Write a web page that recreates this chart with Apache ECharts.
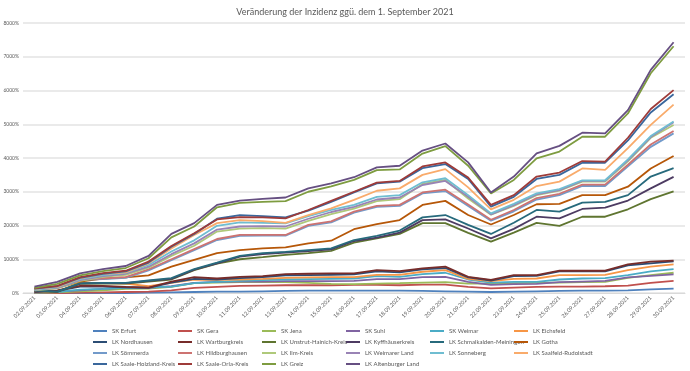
<!DOCTYPE html>
<html><head><meta charset="utf-8">
<script src="https://cdn.jsdelivr.net/npm/echarts@6/dist/echarts.min.js"></script>
<style>html,body{margin:0;padding:0;background:#fff}#c{width:690px;height:371px}</style>
</head><body><div id="c"></div>
<script>
const titleText = 'Veränderung der Inzidenz ggü. dem 1. September 2021';
const categories = ['02.09.2021','03.09.2021','04.09.2021','05.09.2021','06.09.2021','07.09.2021','08.09.2021','09.09.2021','10.09.2021','11.09.2021','12.09.2021','13.09.2021','14.09.2021','15.09.2021','16.09.2021','17.09.2021','18.09.2021','19.09.2021','20.09.2021','21.09.2021','22.09.2021','23.09.2021','24.09.2021','25.09.2021','26.09.2021','27.09.2021','28.09.2021','29.09.2021','30.09.2021'];
const seriesNames = ['SK Erfurt','SK Gera','SK Jena','SK Suhl','SK Weimar','LK Eichsfeld','LK Nordhausen','LK Wartburgkreis','LK Unstrut-Hainich-Kreis','LK Kyffhäuserkreis','LK Schmalkalden-Meiningen','LK Gotha','LK Sömmerda','LK Hildburghausen','LK Ilm-Kreis','LK Weimarer Land','LK Sonneberg','LK Saalfeld-Rudolstadt','LK Saale-Holzland-Kreis','LK Saale-Orla-Kreis','LK Greiz','LK Altenburger Land'];
const skErfurt = [0,0,0,0,0,10,20,30,40,40,50,60,70,70,70,70,70,60,50,40,30,40,50,60,70,70,80,110,130];
const skGera = [0,0,10,20,30,40,80,150,180,210,220,230,230,230,240,240,230,250,250,180,140,160,180,190,190,200,220,300,360];
const skJena = [10,20,50,80,120,130,180,290,310,320,320,320,300,270,260,280,290,310,320,280,280,290,300,310,320,330,450,530,600];
const skSuhl = [20,40,80,120,150,150,200,300,330,340,340,350,350,350,360,410,410,470,480,330,240,260,270,320,340,360,460,510,550];
const skWeimar = [10,30,100,120,150,170,190,290,330,360,380,400,410,420,430,500,480,560,600,400,310,330,330,400,430,440,530,640,710];
const lkEichsfeld = [20,50,300,300,280,200,300,400,390,400,420,450,460,470,470,540,540,630,680,420,350,420,430,530,530,540,680,780,850];
const lkNordhausen = [30,60,190,190,170,150,310,420,400,440,470,520,530,540,550,640,610,700,740,460,370,500,510,640,640,640,820,880,940];
const lkWartburgkreis = [40,80,210,210,180,160,340,470,430,480,500,560,570,580,580,680,650,730,780,480,390,530,530,660,660,660,850,930,960];
const lkUnstrutHainich = [60,30,270,280,280,340,400,680,870,1000,1060,1130,1180,1250,1490,1620,1750,2070,2070,1780,1520,1790,2080,1990,2260,2260,2480,2780,3010];
const lkKyffhaeuser = [70,40,280,290,290,360,420,690,880,1080,1150,1200,1240,1290,1540,1640,1790,2160,2180,1910,1620,1900,2260,2210,2490,2530,2740,3100,3440];
const lkSchmalkalden = [80,40,290,300,300,370,440,710,900,1100,1180,1220,1270,1320,1570,1690,1850,2240,2310,2020,1750,2080,2460,2410,2680,2700,2900,3450,3700];
const lkGotha = [100,150,340,430,460,520,780,980,1180,1270,1320,1350,1470,1550,1890,2040,2160,2610,2730,2310,2030,2310,2630,2640,2900,2900,3150,3690,4060];
const lkSoemmerda = [90,160,390,410,450,670,970,1270,1570,1690,1700,1700,1990,2090,2380,2550,2580,2950,3020,2580,2140,2420,2770,2900,3170,3170,3750,4330,4730];
const lkHildburghausen = [100,170,410,430,470,700,1000,1300,1600,1720,1720,1720,2020,2120,2410,2580,2610,2980,3060,2620,2170,2460,2810,2940,3210,3210,3800,4400,4800];
const lkIlmKreis = [80,140,360,480,540,750,1100,1400,1820,1910,1920,1910,2140,2340,2500,2720,2780,3230,3350,2800,2320,2580,2900,3030,3300,3300,3900,4600,4980];
const lkWeimarerLand = [90,150,380,500,570,780,1150,1470,1880,1970,1980,1970,2200,2400,2550,2770,2830,3200,3320,2850,2330,2600,2920,3050,3320,3320,3930,4620,5060];
const lkSonneberg = [100,170,410,530,600,830,1230,1560,1990,2090,2080,2060,2280,2460,2610,2850,2900,3280,3400,2900,2360,2640,2950,3080,3340,3340,3960,4650,5080];
const lkSaalfeld = [120,180,430,560,610,880,1320,1720,2070,2160,2130,2080,2310,2510,2760,3030,3100,3500,3670,3130,2480,2760,3170,3300,3690,3650,4290,4980,5580];
const lkSaaleHolzland = [130,200,450,570,640,900,1370,1750,2200,2310,2280,2240,2440,2700,2980,3250,3300,3700,3820,3380,2560,2850,3380,3500,3860,3860,4520,5350,5890];
const lkSaaleOrla = [140,210,470,590,660,930,1390,1770,2180,2250,2240,2210,2460,2730,3000,3270,3320,3750,3870,3420,2610,2900,3450,3570,3910,3890,4600,5450,6010];
const lkGreiz = [150,270,520,650,740,1030,1650,1970,2540,2670,2700,2720,3000,3160,3350,3640,3660,4130,4350,3770,2950,3350,3990,4190,4630,4630,5320,6510,7310];
const lkAltenburg = [190,330,580,710,800,1100,1750,2070,2610,2740,2790,2830,3100,3250,3430,3720,3770,4220,4430,3870,2980,3450,4140,4360,4750,4730,5420,6610,7430];
const yTicks = [0,1000,2000,3000,4000,5000,6000,7000,8000];

const allValues = [skErfurt,skGera,skJena,skSuhl,skWeimar,lkEichsfeld,lkNordhausen,lkWartburgkreis,lkUnstrutHainich,lkKyffhaeuser,lkSchmalkalden,lkGotha,lkSoemmerda,lkHildburghausen,lkIlmKreis,lkWeimarerLand,lkSonneberg,lkSaalfeld,lkSaaleHolzland,lkSaaleOrla,lkGreiz,lkAltenburg];
const colors = ['#4F81BD','#C0504D','#9BBB59','#8064A2','#4BACC6','#F79646','#2C4D75','#772C2A','#5F7530','#4D3B62','#276A7C','#B65708','#729ACA','#CD7371','#AFC97A','#9983B5','#6FBDD1','#F9AB6B','#3A679C','#9E3B39','#7E9C40','#664F82'];
const FONT = 'Lato, "Open Sans", sans-serif';
const legendLefts = [93,178,262,346,430,514];
const legends = legendLefts.map((l, c) => ({
  orient: 'vertical', left: l, top: 327, padding: 0, height: 60,
  data: [c, c+6, c+12, c+18].filter(i => i < seriesNames.length).map(i => seriesNames[i]),
  icon: 'rect', itemWidth: 14, itemHeight: 2, itemGap: 3,
  selectedMode: false,
  textStyle: {fontSize: 6, lineHeight: 8, color: '#595959', fontFamily: FONT}
}));
const chart = echarts.init(document.getElementById('c'), null, {renderer: 'canvas'});
chart.setOption({
  animation: false,
  color: colors,
  title: {text: titleText, left: 'center', top: 3, textStyle: {fontSize: 9, fontWeight: 'normal', color: '#595959', fontFamily: FONT}},
  legend: legends,
  grid: {left: 23, right: 5, top: 23, bottom: 78, containLabel: false},
  xAxis: {
    type: 'category', data: categories, boundaryGap: true,
    axisLine: {lineStyle: {color: '#D9D9D9', width: 1}},
    axisTick: {show: false},
    axisLabel: {rotate: 45, fontSize: 5.5, color: '#595959', fontFamily: FONT, interval: 0, margin: 4}
  },
  yAxis: {
    type: 'value', min: yTicks[0], max: yTicks[yTicks.length-1], interval: 1000,
    axisLine: {show: false}, axisTick: {show: false},
    splitLine: {lineStyle: {color: '#E3E3E3', width: 1.5}},
    axisLabel: {formatter: v => v + '%', fontSize: 5, color: '#595959', fontFamily: FONT, margin: 4}
  },
  series: seriesNames.map((n, i) => ({
    name: n, type: 'line', data: allValues[i], showSymbol: false, symbol: 'none',
    lineStyle: {width: 1.8, color: colors[i]}, itemStyle: {color: colors[i]}
  }))
});
</script></body></html>
